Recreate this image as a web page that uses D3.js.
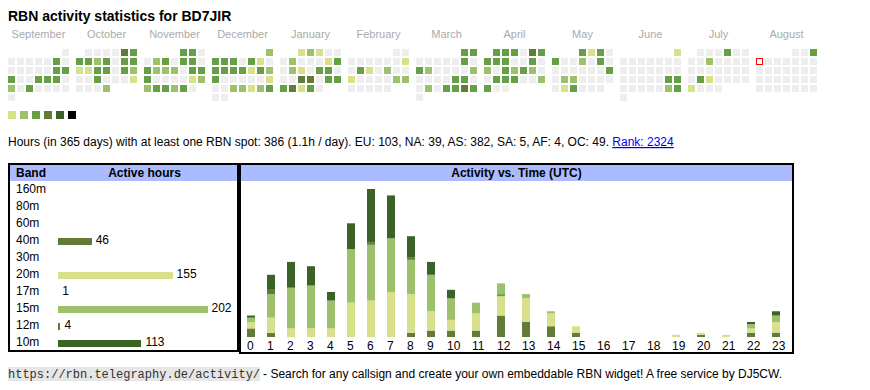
<!DOCTYPE html>
<html>
<head>
<meta charset="utf-8">
<script src="https://cdn.jsdelivr.net/npm/d3@7"></script>
<style>
  html, body { margin: 0; padding: 0; background: #fff; }
  svg { display: block; font-family: "Liberation Sans", Arial, Helvetica, sans-serif; }
</style>
</head>
<body>
<script>
// ---------------- DATA ----------------
const callsign = "BD7JIR";
const months = ["September","October","November","December","January","February","March","April","May","June","July","August"];
const monthYears = [2024,2024,2024,2024,2025,2025,2025,2025,2025,2025,2025,2025];
const monthIndex = [8,9,10,11,0,1,2,3,4,5,6,7];
// activity level per day (0 = none, 1..6 = legend levels), one char per day
const dayLevels = [
  "000000300000033300333020300000",
  "0000433323033113303200300010002",
  "330023033032220333000012233230",
  "2333031033331323000001002212300",
  "1210002000130210330004403334130",
  "0000000010310200100002200000",
  "3300000303200002000033002033430",
  "333043333003020323200333002300",
  "3130300203000000030220000013000",
  "100000000000000000003300000230",
  "0003000020000000000003100001000",
  "0030000000000000000000000000000"
];
const todayDate = [2025, 7, 4];
const levelColors = ["#eeeeee","#d9e08a","#9cc06b","#65a047","#637b39","#3c6326","#000000"];

const statsText = "Hours (in 365 days) with at least one RBN spot: 386 (1.1h / day). EU: 103, NA: 39, AS: 382, SA: 5, AF: 4, OC: 49. ";
const rankText = "Rank: 2324";

const bands = ["160m","80m","60m","40m","30m","20m","17m","15m","12m","10m"];
const bandHours = [0,0,0,46,0,155,1,202,4,113];
const bandColors = {"160m":"#888888","80m":"#888888","60m":"#888888","40m":"#637b39","30m":"#888888",
                    "20m":"#d9e08a","17m":"#65a047","15m":"#9cc06b","12m":"#5f7b37","10m":"#3c6326"};

const hourLabels = ["0","1","2","3","4","5","6","7","8","9","10","11","12","13","14","15","16","17","18","19","20","21","22","23"];
const stackKeys = ["40m","20m","17m","15m","12m","10m"];
const hours40 = [4,2,0,0,0,0,0,0,2,3,3,3,10,7,5,2,0,0,0,0,1,0,2,2];
const hours20 = [3,7,4,4,4,16,17,21,18,9,5,8,9,11,6,3,0,0,0,1,1,1,2,5];
const hours17 = [0,0,0,0,0,0,0,0,0,0,0,0,1,0,0,0,0,0,0,0,0,0,0,0];
const hours15 = [2,11,19,20,13,25,26,25,16,17,10,5,5,2,1,0,0,0,0,0,0,0,2,3];
const hours12 = [0,2,0,0,0,0,1,0,1,0,0,0,0,0,0,0,0,0,0,0,0,0,0,0];
const hours10 = [1,7,12,9,4,12,25,20,10,6,4,0,0,0,0,0,0,0,0,0,0,0,1,2];

const footerUrl = "https://rbn.telegraphy.de/activity/";
const footerText = "- Search for any callsign and create your own embeddable RBN widget! A free service by DJ5CW.";

// ---------------- DRAW ----------------
const svg = d3.select("body").append("svg").attr("width", 870).attr("height", 390);
svg.append("rect").attr("width", 870).attr("height", 390).attr("fill", "#fff");

svg.append("text").attr("x", 8).attr("y", 21)
  .attr("font-size", 14).attr("font-weight", "bold").attr("fill", "#000")
  .text("RBN activity statistics for " + callsign);

// calendar heatmap
const monthX = d3.scaleLinear().domain([0, 1]).range([8, 76]);
const colX = d3.scaleLinear().domain([0, 1]).range([0, 9]);
const rowY = d3.scaleLinear().domain([0, 1]).range([49, 58]);
const cellSize = 7;

const cal = svg.append("g");
months.forEach((name, mi) => {
  cal.append("text")
    .attr("x", monthX(mi) + (colX(6) + cellSize) / 2)
    .attr("y", 38)
    .attr("text-anchor", "middle")
    .attr("font-size", 11)
    .attr("fill", "#aaaaaa")
    .text(name);
  const y = monthYears[mi], m = monthIndex[mi];
  const first = (new Date(Date.UTC(y, m, 1)).getUTCDay() + 6) % 7;
  const levels = dayLevels[mi].split("").map(Number);
  const cells = levels.map((lv, i) => {
    const k = first + i;
    const isToday = (y === todayDate[0] && m === todayDate[1] && i + 1 === todayDate[2]);
    return {lv, col: k % 7, row: Math.floor(k / 7), isToday};
  });
  cal.selectAll(null).data(cells).enter().append("rect")
    .attr("x", d => monthX(mi) + colX(d.col) + (d.isToday ? 0.5 : 0))
    .attr("y", d => rowY(d.row) + (d.isToday ? 0.5 : 0))
    .attr("width", d => d.isToday ? cellSize - 1 : cellSize)
    .attr("height", d => d.isToday ? cellSize - 1 : cellSize)
    .attr("fill", d => d.isToday ? "#ffffff" : levelColors[d.lv])
    .attr("stroke", d => d.isToday ? "#ff0000" : "none")
    .attr("stroke-width", 1);
});

// legend
const legX = d3.scaleLinear().domain([0, 1]).range([8, 20]);
svg.append("g").selectAll("rect").data(levelColors.slice(1)).enter().append("rect")
  .attr("x", (d, i) => legX(i)).attr("y", 111)
  .attr("width", 8).attr("height", 8)
  .attr("fill", d => d);

// stats line
const st = svg.append("text").attr("x", 8).attr("y", 146).attr("font-size", 12).attr("fill", "#000");
st.append("tspan").text(statsText);
st.append("tspan").attr("fill", "#0000ee").attr("text-decoration", "underline").text(rankText);

// ---------------- band table ----------------
const bt = svg.append("g");
bt.append("rect").attr("x", 9).attr("y", 164).attr("width", 229).attr("height", 187)
  .attr("fill", "#fff").attr("stroke", "#000").attr("stroke-width", 2);
bt.append("rect").attr("x", 10).attr("y", 165).attr("width", 227).attr("height", 16).attr("fill", "#aabbff");
bt.append("text").attr("x", 16).attr("y", 177).attr("font-size", 12).attr("font-weight", "bold").text("Band");
bt.append("text").attr("x", 144.5).attr("y", 177).attr("font-size", 12).attr("font-weight", "bold")
  .attr("text-anchor", "middle").text("Active hours");

const rowBase = d3.scaleLinear().domain([0, 1]).range([193, 210]);
const barScale = d3.scaleLinear().domain([0, d3.max(bandHours)]).range([0, 150]);
const barW = v => Math.floor(barScale(v));
const bandRows = bands.map((b, i) => ({band: b, hours: bandHours[i], i}));
bt.selectAll(".bl").data(bandRows).enter().append("text")
  .attr("x", 16).attr("y", d => rowBase(d.i)).attr("font-size", 12).text(d => d.band);
const active = bandRows.filter(d => d.hours > 0);
bt.selectAll(".bb").data(active.filter(d => barW(d.hours) > 0)).enter().append("rect")
  .attr("x", 58).attr("y", d => rowBase(d.i) - 6)
  .attr("width", d => barW(d.hours)).attr("height", 7)
  .attr("fill", d => bandColors[d.band]);
bt.selectAll(".bv").data(active).enter().append("text")
  .attr("x", d => 58 + barScale(d.hours) + 3.5).attr("y", d => rowBase(d.i))
  .attr("font-size", 12).text(d => d.hours);

// ---------------- activity vs time ----------------
const at = svg.append("g");
at.append("rect").attr("x", 240).attr("y", 164).attr("width", 553).attr("height", 189)
  .attr("fill", "#fff").attr("stroke", "#000").attr("stroke-width", 2);
at.append("rect").attr("x", 241).attr("y", 165).attr("width", 551).attr("height", 16).attr("fill", "#aabbff");
at.append("text").attr("x", 516.5).attr("y", 177).attr("font-size", 12).attr("font-weight", "bold")
  .attr("text-anchor", "middle").text("Activity vs. Time (UTC)");

const weights = hourLabels.map(l => l.length + 3);
const starts = [0].concat(Array.from(d3.cumsum(weights)));
const colScale = d3.scaleLinear().domain([0, d3.sum(weights)]).range([242, 792]);

const series = {"40m": hours40, "20m": hours20, "17m": hours17, "15m": hours15, "12m": hours12, "10m": hours10};
const table = hourLabels.map((h, i) => {
  const o = {hour: i};
  stackKeys.forEach(k => o[k] = series[k][i]);
  return o;
});
const stacked = d3.stack().keys(stackKeys)(table);
const totals = table.map(d => d3.sum(stackKeys, k => d[k]));
const yScale = d3.scaleLinear().domain([0, d3.max(totals)]).range([337, 189]);

at.selectAll(".layer").data(stacked).enter().append("g")
  .attr("fill", d => bandColors[d.key])
  .selectAll("rect").data(d => d.filter(p => p[1] - p[0] > 0)).enter().append("rect")
  .attr("x", d => colScale(starts[d.data.hour]) + 5)
  .attr("y", d => yScale(d[1]))
  .attr("width", 8)
  .attr("height", d => yScale(d[0]) - yScale(d[1]));

at.selectAll(".hl").data(hourLabels).enter().append("text")
  .attr("x", (d, i) => colScale(starts[i]) + 5)
  .attr("y", 350)
  .attr("font-size", 12)
  .text(d => d);

// ---------------- footer ----------------
const fu = svg.append("text").attr("x", 8).attr("y", 378)
  .attr("font-family", "'Liberation Mono', 'DejaVu Sans Mono', monospace")
  .attr("font-size", 12).attr("fill", "#333").text(footerUrl);
const fw = fu.node().getComputedTextLength();
svg.insert("rect", () => fu.node()).attr("x", 8).attr("y", 367).attr("width", fw).attr("height", 14).attr("fill", "#e6e6e6");
svg.append("text").attr("x", 8 + fw + 3).attr("y", 378).attr("font-size", 12).attr("fill", "#000").text(footerText);
</script>
</body>
</html>
